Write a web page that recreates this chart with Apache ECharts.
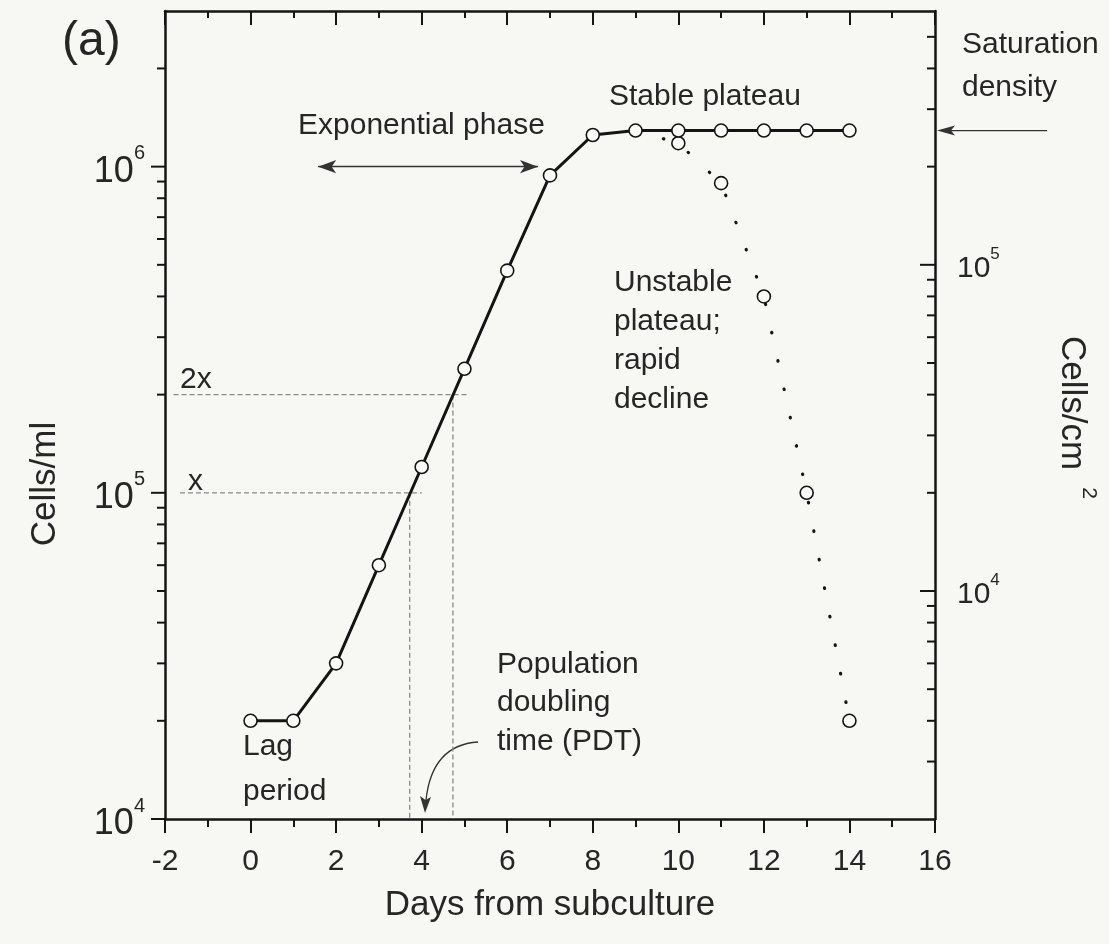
<!DOCTYPE html>
<html><head><meta charset="utf-8">
<script src="https://cdn.jsdelivr.net/npm/echarts@6/dist/echarts.min.js"></script>
<style>html,body{margin:0;padding:0;background:#f7f7f4;}#c{width:1109px;height:944px;}</style>
</head><body><div id="c"></div>
<script>
// ---------- data ----------
const growthDays  = [0, 1, 2, 3, 4, 5, 6, 7, 8, 9, 10, 11, 12, 13, 14];
const growthCells = [2.0e4, 2.0e4, 3.0e4, 6.0e4, 1.2e5, 2.4e5, 4.8e5, 9.4e5, 1.25e6, 1.29e6, 1.29e6, 1.29e6, 1.29e6, 1.29e6, 1.29e6];
const declineDays  = [9, 10, 11, 12, 13, 14];
const declineCells = [1.29e6, 1.18e6, 8.9e5, 4.0e5, 1.0e5, 2.0e4];
const doublingGuideDays = [-1.8, 5.1];
const doublingGuideLevel = 2e5;          // "2x"
const baseGuideDays = [-1.65, 4.0];
const baseGuideLevel = 1e5;              // "x"
const pdtDays = [3.72, 4.73];            // vertical guides (x -> 2x)
const axisFloor = 1e4;
const expArrowDays = [1.58, 6.72];
const expArrowLevel = 1.0e6;
const xRange = [-2, 16];
const xInterval = 2;
const leftRange = [1e4, 3e6];            // cells/ml
const rightRange = [2e3, 6e5];           // cells/cm2
const leftMajorTicks = [1e4, 1e5, 1e6];
const leftMinorTicks = [2e4,3e4,4e4,5e4,6e4,7e4,8e4,9e4,2e5,3e5,4e5,5e5,6e5,7e5,8e5,9e5,2e6];
const rightMajorTicks = [1e4, 1e5];
const rightMinorTicks = [3e3,4e3,5e3,6e3,7e3,8e3,9e3,2e4,3e4,4e4,5e4,6e4,7e4,8e4,9e4,2e5,3e5,4e5,5e5];

// ---------- styles ----------
const FONT = "'Liberation Sans', Arial, Helvetica, sans-serif";
const INK = '#141414';
const TXT = '#262626';
const GUIDE = '#8a8a8a';

const chart = echarts.init(document.getElementById('c'));

function powLabel(v) {
  const e = Math.log10(v);
  const r = Math.round(e);
  if (Math.abs(e - r) > 1e-6) return '';
  return '{b|10}{s|' + r + '}';
}

function tickItems(xv, vals, len) { return vals.map(v => [xv, v, len]); }
function tickRender(params, api) {
  const p = api.coord([api.value(0), api.value(1)]);
  const len = api.value(2);
  return { type: 'line', shape: { x1: p[0] - len, y1: p[1], x2: p[0], y2: p[1] },
           style: { stroke: INK, lineWidth: 2 } };
}

function guide(days, levels) {
  return {
    type: 'line', xAxisIndex: 0, yAxisIndex: 0, silent: true, z: 2,
    symbol: 'none', animation: false,
    data: days.map((d, i) => [d, levels[i]]),
    lineStyle: { color: GUIDE, width: 1.3, type: [5, 3] }
  };
}

const axisLineStyle = { color: INK, width: 2.5 };

const option = {
  backgroundColor: '#f7f7f4',
  animation: false,
  grid: { left: 165, right: 174, top: 11, bottom: 125, containLabel: false, outerBoundsMode: 'none' },
  xAxis: [
    {
      type: 'value', position: 'bottom', min: xRange[0], max: xRange[1], interval: xInterval,
      axisLine: { show: true, onZero: false, lineStyle: axisLineStyle },
      axisTick: { show: true, inside: false, length: 14, lineStyle: { color: INK, width: 2 } },
      minorTick: { show: true, splitNumber: 2, length: 8, lineStyle: { color: INK, width: 2 } },
      splitLine: { show: false }, minorSplitLine: { show: false },
      axisLabel: { fontSize: 30, fontFamily: FONT, color: TXT, margin: 28 },
      name: 'Days from subculture', nameLocation: 'middle', nameGap: 69,
      nameTextStyle: { fontSize: 35, fontFamily: FONT, color: TXT }
    },
    {
      type: 'value', position: 'top', min: xRange[0], max: xRange[1], interval: xInterval,
      axisLine: { show: true, onZero: false, lineStyle: axisLineStyle },
      axisTick: { show: true, inside: true, length: 14, lineStyle: { color: INK, width: 2 } },
      minorTick: { show: true, splitNumber: 2, length: 7, lineStyle: { color: INK, width: 2 } },
      splitLine: { show: false }, minorSplitLine: { show: false },
      axisLabel: { show: false }
    }
  ],
  yAxis: [
    {
      type: 'log', logBase: 10, position: 'left', min: leftRange[0], max: leftRange[1],
      axisLine: { show: true, onZero: false, lineStyle: axisLineStyle },
      axisTick: { show: false }, splitLine: { show: false },
      axisLabel: {
        formatter: powLabel, margin: 20, color: TXT, fontFamily: FONT,
        rich: {
          b: { fontSize: 36, fontFamily: FONT, color: TXT, padding: [10, 0, 0, 0] },
          s: { fontSize: 20, fontFamily: FONT, color: TXT, verticalAlign: 'top' }
        }
      }
    },
    {
      type: 'log', logBase: 10, position: 'right', min: rightRange[0], max: rightRange[1],
      axisLine: { show: true, onZero: false, lineStyle: axisLineStyle },
      axisTick: { show: false }, splitLine: { show: false },
      axisLabel: {
        formatter: powLabel, margin: 22, color: TXT, fontFamily: FONT,
        rich: {
          b: { fontSize: 30, fontFamily: FONT, color: TXT, padding: [8, 0, 0, 0] },
          s: { fontSize: 17, fontFamily: FONT, color: TXT, verticalAlign: 'top' }
        }
      }
    }
  ],
  series: [
    guide(doublingGuideDays, [doublingGuideLevel, doublingGuideLevel]),
    guide(baseGuideDays, [baseGuideLevel, baseGuideLevel]),
    guide([pdtDays[0], pdtDays[0]], [baseGuideLevel, axisFloor]),
    guide([pdtDays[1], pdtDays[1]], [doublingGuideLevel, axisFloor]),
    {
      type: 'line', xAxisIndex: 0, yAxisIndex: 0, data: [], silent: true,
      markLine: {
        silent: true, symbol: ['arrow', 'arrow'], symbolSize: [10, 18],
        label: { show: false },
        lineStyle: { color: '#333', width: 1.3, type: 'solid' },
        data: [[{ coord: [expArrowDays[0], expArrowLevel] }, { coord: [expArrowDays[1], expArrowLevel] }]]
      }
    },
    {
      name: 'decline', type: 'line', xAxisIndex: 0, yAxisIndex: 0, z: 4,
      data: declineDays.map((d, i) => ({ value: [d, declineCells[i]], symbol: i === 0 ? 'none' : 'circle' })),
      symbolSize: 13, showAllSymbol: true,
      itemStyle: { color: '#fbfbfa', borderColor: INK, borderWidth: 1.6 },
      lineStyle: { color: INK, width: 3.2, type: [0.5, 28.5], cap: 'round' }
    },
    {
      name: 'growth', type: 'line', xAxisIndex: 0, yAxisIndex: 0, z: 5,
      data: growthDays.map((d, i) => [d, growthCells[i]]),
      symbol: 'circle', symbolSize: 13, showAllSymbol: true,
      itemStyle: { color: '#fbfbfa', borderColor: INK, borderWidth: 1.6 },
      lineStyle: { color: INK, width: 3 }
    },
    {
      type: 'custom', xAxisIndex: 0, yAxisIndex: 0, clip: false, silent: true, z: 6,
      data: tickItems(xRange[0], leftMajorTicks, 14).concat(tickItems(xRange[0], leftMinorTicks, 8)),
      renderItem: tickRender
    },
    {
      type: 'custom', xAxisIndex: 0, yAxisIndex: 1, clip: false, silent: true, z: 6,
      data: tickItems(xRange[1], rightMajorTicks, 15).concat(tickItems(xRange[1], rightMinorTicks, 8)),
      renderItem: tickRender
    }
  ]
};
chart.setOption(option);

// ---------- annotations ----------
function t(x, y, text, size, extra) {
  return Object.assign({
    type: 'text', x: x, y: y, silent: true, z: 20,
    style: { text: text, fontSize: size, fontFamily: FONT, fill: TXT, textAlign: 'left', textVerticalAlign: 'middle' }
  }, extra || {});
}
const plateauY = chart.convertToPixel({ yAxisIndex: 0 }, growthCells[growthCells.length - 1]);
const graphics = [
  t(62, 42, '(a)', 48),
  t(298, 126, 'Exponential phase', 30),
  t(609, 97, 'Stable plateau', 30),
  t(962, 45, 'Saturation', 30),
  t(962, 88, 'density', 30),
  t(614, 283, 'Unstable', 30),
  t(614, 322, 'plateau;', 30),
  t(614, 361, 'rapid', 30),
  t(614, 400, 'decline', 30),
  t(180, 380, '2x', 30),
  t(188, 482, 'x', 30),
  t(243, 747, 'Lag', 30),
  t(243, 792, 'period', 30),
  t(497, 665, 'Population', 30),
  t(497, 703, 'doubling', 30),
  t(497, 742, 'time (PDT)', 30),
  { type: 'text', x: 45, y: 484, rotation: Math.PI / 2, silent: true,
    style: { text: 'Cells/ml', fontSize: 35, fontFamily: FONT, fill: TXT, textAlign: 'center', textVerticalAlign: 'middle' } },
  { type: 'text', x: 1072, y: 403, rotation: -Math.PI / 2, silent: true,
    style: { text: 'Cells/cm', fontSize: 35, fontFamily: FONT, fill: TXT, textAlign: 'center', textVerticalAlign: 'middle' } },
  { type: 'text', x: 1089, y: 493, rotation: -Math.PI / 2, silent: true,
    style: { text: '2', fontSize: 21, fontFamily: FONT, fill: TXT, textAlign: 'center', textVerticalAlign: 'middle' } },
  // saturation density arrow
  { type: 'line', silent: true, shape: { x1: 1047, y1: plateauY, x2: 948, y2: plateauY }, style: { stroke: '#333', lineWidth: 1.3 } },
  { type: 'polygon', silent: true, shape: { points: [[937, plateauY], [955, plateauY - 5], [951, plateauY], [955, plateauY + 5]] }, style: { fill: '#333' } },
  // PDT curved arrow
  { type: 'bezierCurve', silent: true, shape: { x1: 478, y1: 742, cpx1: 432, cpy1: 745, x2: 426, y2: 800 }, style: { stroke: '#333', lineWidth: 1.3, fill: null } },
  { type: 'polygon', silent: true, shape: { points: [[425, 813], [420, 796], [425.5, 800], [431, 797]] }, style: { fill: '#333' } }
];
chart.setOption({ graphic: graphics });
</script>
</body></html>
